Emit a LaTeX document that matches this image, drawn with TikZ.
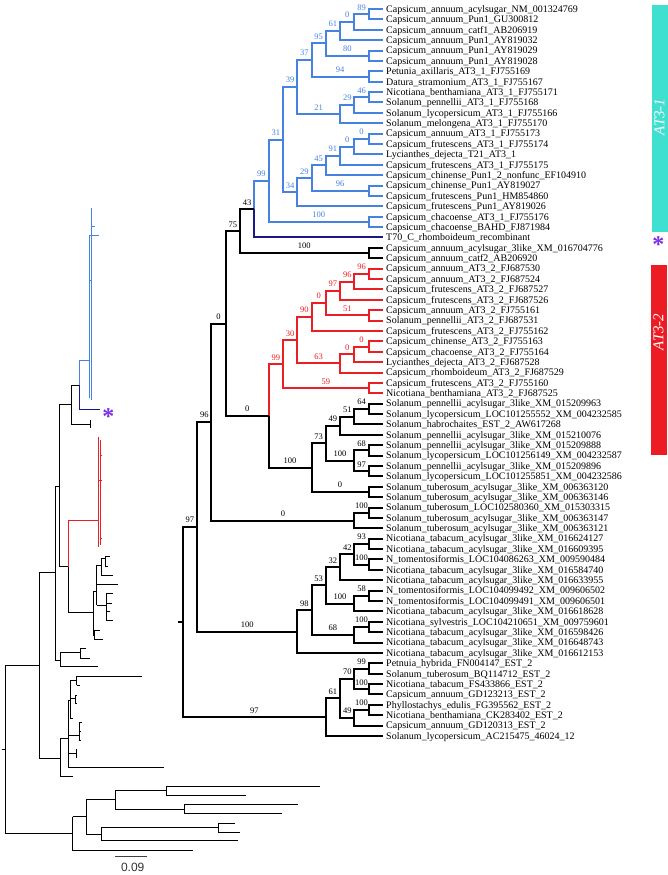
\documentclass[tikz,border=0pt]{standalone}
\usepackage{fontspec}
\setmainfont{Liberation Serif}
\newfontfamily\scalesans{Liberation Sans}
\usetikzlibrary{calc}
\definecolor{cladeblue}{RGB}{70,130,225}
\definecolor{cladered}{RGB}{235,30,35}
\definecolor{navyT}{RGB}{25,25,140}
\definecolor{starpurple}{RGB}{125,45,230}
\definecolor{barcyan}{RGB}{64,224,208}
\definecolor{barred}{RGB}{237,28,36}

\begin{document}
\begin{tikzpicture}[x=1pt,y=-1pt,
    branch/.style={line width=2pt},
    blueb/.style={branch, cladeblue},
    redb/.style={branch, cladered},
    blackb/.style={branch, black},
    navyb/.style={branch, navyT},
    leaf/.style={anchor=west, inner xsep=3pt, inner ysep=0pt,
      font=\fontsize{10}{10}\selectfont, text height=7pt, text depth=0.4pt},
    bs/.style={above, inner sep=0pt, yshift=3pt, font=\fontsize{8.5}{8.5}\selectfont},
    mini/.style={line width=0.9pt},
    cladebar/.style={rotate=90, text=white, font=\fontsize{15}{15}\selectfont\itshape}]
\useasboundingbox (0,0) rectangle (668,875);

% Leaves
\foreach \i/\nm in {1/Capsicum\_annuum\_acylsugar\_NM\_001324769,
  2/Capsicum\_annuum\_Pun1\_GU300812, 3/Capsicum\_annuum\_catf1\_AB206919,
  4/Capsicum\_annuum\_Pun1\_AY819032, 5/Capsicum\_annuum\_Pun1\_AY819029,
  6/Capsicum\_annuum\_Pun1\_AY819028, 7/Petunia\_axillaris\_AT3\_1\_FJ755169,
  8/Datura\_stramonium\_AT3\_1\_FJ755167, 9/Nicotiana\_benthamiana\_AT3\_1\_FJ755171,
  10/Solanum\_pennellii\_AT3\_1\_FJ755168, 11/Solanum\_lycopersicum\_AT3\_1\_FJ755166,
  12/Solanum\_melongena\_AT3\_1\_FJ755170, 13/Capsicum\_annuum\_AT3\_1\_FJ755173,
  14/Capsicum\_frutescens\_AT3\_1\_FJ755174, 15/Lycianthes\_dejecta\_T21\_AT3\_1,
  16/Capsicum\_frutescens\_AT3\_1\_FJ755175, 17/Capsicum\_chinense\_Pun1\_2\_nonfunc\_EF104910,
  18/Capsicum\_chinense\_Pun1\_AY819027, 19/Capsicum\_frutescens\_Pun1\_HM854860,
  20/Capsicum\_frutescens\_Pun1\_AY819026, 21/Capsicum\_chacoense\_AT3\_1\_FJ755176,
  22/Capsicum\_chacoense\_BAHD\_FJ871984, 23/T70\_C\_rhomboideum\_recombinant,
  24/Capsicum\_annuum\_acylsugar\_3like\_XM\_016704776, 25/Capsicum\_annuum\_catf2\_AB206920,
  26/Capsicum\_annuum\_AT3\_2\_FJ687530, 27/Capsicum\_annuum\_AT3\_2\_FJ687524,
  28/Capsicum\_frutescens\_AT3\_2\_FJ687527, 29/Capsicum\_frutescens\_AT3\_2\_FJ687526,
  30/Capsicum\_annuum\_AT3\_2\_FJ755161, 31/Solanum\_pennellii\_AT3\_2\_FJ687531,
  32/Capsicum\_frutescens\_AT3\_2\_FJ755162, 33/Capsicum\_chinense\_AT3\_2\_FJ755163,
  34/Capsicum\_chacoense\_AT3\_2\_FJ755164, 35/Lycianthes\_dejecta\_AT3\_2\_FJ687528,
  36/Capsicum\_rhomboideum\_AT3\_2\_FJ687529, 37/Capsicum\_frutescens\_AT3\_2\_FJ755160,
  38/Nicotiana\_benthamiana\_AT3\_2\_FJ687525, 39/Solanum\_pennellii\_acylsugar\_3like\_XM\_015209963,
  40/Solanum\_lycopersicum\_LOC101255552\_XM\_004232585, 41/Solanum\_habrochaites\_EST\_2\_AW617268,
  42/Solanum\_pennellii\_acylsugar\_3like\_XM\_015210076, 43/Solanum\_pennellii\_acylsugar\_3like\_XM\_015209888,
  44/Solanum\_lycopersicum\_LOC101256149\_XM\_004232587, 45/Solanum\_pennellii\_acylsugar\_3like\_XM\_015209896,
  46/Solanum\_lycopersicum\_LOC101255851\_XM\_004232586, 47/Solanum\_tuberosum\_acylsugar\_3like\_XM\_006363120,
  48/Solanum\_tuberosum\_acylsugar\_3like\_XM\_006363146, 49/Solanum\_tuberosum\_LOC102580360\_XM\_015303315,
  50/Solanum\_tuberosum\_acylsugar\_3like\_XM\_006363147, 51/Solanum\_tuberosum\_acylsugar\_3like\_XM\_006363121,
  52/Nicotiana\_tabacum\_acylsugar\_3like\_XM\_016624127, 53/Nicotiana\_tabacum\_acylsugar\_3like\_XM\_016609395,
  54/N\_tomentosiformis\_LOC104086263\_XM\_009590484, 55/Nicotiana\_tabacum\_acylsugar\_3like\_XM\_016584740,
  56/Nicotiana\_tabacum\_acylsugar\_3like\_XM\_016633955, 57/N\_tomentosiformis\_LOC104099492\_XM\_009606502,
  58/N\_tomentosiformis\_LOC104099491\_XM\_009606501, 59/Nicotiana\_tabacum\_acylsugar\_3like\_XM\_016618628,
  60/Nicotiana\_sylvestris\_LOC104210651\_XM\_009759601, 61/Nicotiana\_tabacum\_acylsugar\_3like\_XM\_016598426,
  62/Nicotiana\_tabacum\_acylsugar\_3like\_XM\_016648743, 63/Nicotiana\_tabacum\_acylsugar\_3like\_XM\_016612153,
  64/Petnuia\_hybrida\_FN004147\_EST\_2, 65/Solanum\_tuberosum\_BQ114712\_EST\_2,
  66/Nicotiana\_tabacum\_FS433866\_EST\_2, 67/Capsicum\_annuum\_GD123213\_EST\_2,
  68/Phyllostachys\_edulis\_FG395562\_EST\_2, 69/Nicotiana\_benthamiana\_CK283402\_EST\_2,
  70/Capsicum\_annuum\_GD120313\_EST\_2, 71/Solanum\_lycopersicum\_AC215475\_46024\_12}{
  \node[leaf] (L\i) at (383,{9+(\i-1)*10.386}) {\nm};
}

% Internal nodes: name/depth/y
\foreach \n/\d/\y in {b89/1/14.19, b0a/2/21.98, b61/3/31.07, b80/1/55.74, b95/4/43.40,
  b94/1/76.51, b37/5/59.96, b46/1/97.28, b29a/2/105.07, b21/3/114.16, b39/6/87.06,
  b0b/1/138.83, b0c/2/146.61, b91/3/155.70, b45/4/165.44, b96/1/190.76, b29b/5/178.10,
  b34/6/192.22, b31/7/139.64, b100a/1/221.91, b99/8/180.78, k43/9/209.14,
  k100b/1/253.07, k75/10/231.11,
  r96a/1/273.84, r96b/2/281.63, r97/3/290.72, r51/1/315.39, r0a/4/303.06, r90/5/317.01,
  r0s/1/346.55, r0t/2/354.34, r63/3/363.43, r30/6/340.22, r59/1/388.09, r99/7/364.16,
  s64/1/408.86, s51/2/416.65, s49/3/425.74, s68/1/450.41, s97/1/471.18, s100g/2/460.80,
  s73/4/443.27, s0a/1/491.95, s100h/5/467.61, k0b/8/415.89, k0a/11/323.50,
  t100/1/512.72, t0/2/520.51, k96/12/422.01,
  c93/1/543.88, c100a/1/564.65, c42/2/554.27, c32/3/567.25, c58/1/595.81, c100b/2/603.60,
  c53/4/585.43, c100c/1/626.97, c68/2/634.76, c98/5/610.10, c100d/6/631.52, k97/13/526.77,
  e99/1/668.51, e100a/1/689.28, e70/2/678.90, e100b/1/710.06, e49/2/717.85, e61/3/698.38,
  e97/4/717.20, root/14/621.99}{
  \coordinate (\n) at ({383-14.3*\d},\y);
}
\coordinate (rootstub) at (178,621.99);

% AT3-1 clade (blue)
\foreach \p/\c/\b in {b0a/b89/89, b61/b0a/0, b95/b61/61, b95/b80/80, b37/b95/95, b37/b94/94,
  b29a/b46/46, b21/b29a/29, b39/b37/37, b39/b21/21, b31/b39/39, b0c/b0b/0, b91/b0c/0,
  b45/b91/91, b29b/b45/45, b29b/b96/96, b34/b29b/29, b31/b34/34, b99/b31/31,
  b99/b100a/100, k43/b99/99}
  \draw[blueb] (\p) |- node[bs, pos=0.75] {\b} (\c);
\foreach \p/\i in {b89/1, b89/2, b0a/3, b61/4, b80/5, b80/6, b94/7, b94/8, b46/9, b46/10,
  b29a/11, b21/12, b0b/13, b0b/14, b0c/15, b91/16, b45/17, b96/18, b96/19, b34/20,
  b100a/21, b100a/22}
  \draw[blueb] (\p) |- (L\i.west);

% recombinant
\draw[navyb] (k43) |- (L23.west);

% AT3-2 clade (red)
\foreach \p/\c/\b in {k0b/r99/99, r99/r30/30, r99/r59/59, r30/r90/90, r30/r63/63,
  r90/r0a/0, r0a/r97/97, r0a/r51/51, r97/r96b/96, r96b/r96a/96, r63/r0t/0, r0t/r0s/0}
  \draw[redb] (\p) |- node[bs, pos=0.75] {\b} (\c);
\foreach \p/\i in {r96a/26, r96a/27, r96b/28, r97/29, r51/30, r51/31, r90/32, r0s/33,
  r0s/34, r0t/35, r63/36, r59/37, r59/38}
  \draw[redb] (\p) |- (L\i.west);

% rest of the tree
\foreach \p/\c/\b in {k75/k43/43, k75/k100b/100, k0a/k75/75, k0a/k0b/0, k96/k0a/0,
  k0b/s100h/100, s100h/s73/73, s100h/s0a/0, s73/s49/49, s73/s100g/100, s49/s51/51,
  s51/s64/64, s100g/s68/68, s100g/s97/97, k96/t0/0, t0/t100/100, k97/k96/96,
  k97/c100d/100, c100d/c98/98, c98/c53/53, c98/c68/68, c53/c32/32, c53/c100b/100,
  c32/c42/42, c42/c93/93, c42/c100a/100, c100b/c58/58, c68/c100c/100, root/k97/97,
  root/e97/97, e97/e61/61, e61/e70/70, e61/e49/49, e70/e99/99, e70/e100a/100,
  e49/e100b/100}
  \draw[blackb] (\p) |- node[bs, pos=0.75] {\b} (\c);
\foreach \p/\i in {k100b/24, k100b/25, s64/39, s64/40, s51/41, s49/42, s68/43, s68/44,
  s97/45, s97/46, s0a/47, s0a/48, t100/49, t100/50, t0/51, c93/52, c93/53, c100a/54,
  c100a/55, c32/56, c58/57, c58/58, c100b/59, c100c/60, c100c/61, c68/62, c100d/63,
  e99/64, e99/65, e100a/66, e100a/67, e100b/68, e100b/69, e49/70, e97/71}
  \draw[blackb] (\p) |- (L\i.west);
\draw[blackb] (rootstub) -- (root);

% Clade bars
\fill[barcyan] (651.5,5) rectangle (668,231.5);
\fill[barred] (650.5,265) rectangle (666.5,455);
\node[cladebar] (at31) at (659.5,117) {AT3-1};
\node[cladebar] (at32) at (658.5,332) {AT3-2};
\node[starpurple, font=\fontsize{24}{24}\selectfont\bfseries] (starR) at (658.3,245) {*};

% Overview phylogram (left)
\draw[mini, cladeblue] (91,208) -- (91,400) (89.3,236) -- (89.3,398)
  (91,226.7) -- (95,226.7) (89.3,235.7) -- (99.3,235.7) (89.3,280) -- (92,280)
  (79.3,360) -- (89.3,360) (79.3,360) -- (79.3,385);
\draw[mini, navyT] (79.3,385) -- (79.3,409.3) -- (100,409.3);
\node[starpurple, font=\fontsize{24}{24}\selectfont\bfseries] (starL) at (108.3,416.5) {*};
\draw[mini] (71.7,385) -- (79.3,385) (71.7,385) -- (71.7,424) -- (90.7,424)
  (90.7,420) -- (90.7,428) (59.3,404.3) -- (71.7,404.3) (59.3,404.3) -- (59.3,566.7)
  -- (68.3,566.7) -- (68.3,612.7) -- (93.3,612.7);
\draw[mini, cladered] (68.3,566.7) -- (68.3,520.7) -- (98.3,520.7)
  (98.3,436.7) -- (98.3,547.3) (100,440) -- (100,545) (100,455) -- (102,455)
  (99,480) -- (102,480) (100,538) -- (102,538);
% solanum part
\draw[mini] (93.3,591) -- (93.3,635) (93.3,591) -- (96.7,591)
  (96.7,565) -- (96.7,605) (96.7,565) -- (101,565) (101,558) -- (101,575)
  (101,558) -- (105,558) (105,556.7) -- (105,566) (105,556.7) -- (110,556.7)
  (105,566) -- (108,566) (101,575) -- (113.3,575) (96.7,584.3) -- (118.3,584.3)
  (96.7,605) -- (106.7,605) (106.7,593.3) -- (106.7,620.7) (106.7,593.3) -- (113.3,593.3)
  (106.7,603.3) -- (111.7,603.3) (106.7,611.7) -- (110,611.7) (106.7,620.7) -- (113.3,620.7)
  (93.3,635) -- (94.3,635) (94.3,630) -- (94.3,639.3) (94.3,630) -- (100,630)
  (94.3,639.3) -- (103.3,639.3);
% tuberosum part
\draw[mini] (55,486.7) -- (59.3,486.7) (55,486.7) -- (55,660) (55,660) -- (60,660)
  (60,652.7) -- (60,666.7) (60,652.7) -- (80,652.7) (80,648) -- (80,658)
  (80,648) -- (86,648) (80,658) -- (90,658) (60,666.7) -- (98.3,666.7);
% nicotiana and EST part
\draw[mini] (39.3,572.7) -- (55,572.7) (39.3,572.7) -- (39.3,758.3) -- (60,758.3)
  (60,738.3) -- (60,776.7) -- (72.7,776.7) (60,738.3) -- (68.3,738.3)
  (68.3,700) -- (68.3,767.3) (68.3,700) -- (70,700) (70,680) -- (70,718)
  (70,680) -- (76.7,680) (76.7,676) -- (76.7,685) (76.7,676) -- (141.7,676)
  (76.7,685) -- (80,685) (70,698) -- (75,698) (75,695) -- (75,703) (75,695) -- (77,695)
  (75,703) -- (77,703) (70,718) -- (73,718) (68.3,735) -- (79,735) (79,722) -- (79,740)
  (79,722) -- (82,722) (79,731) -- (81,731) (79,740) -- (81,740)
  (68.3,753.3) -- (77.3,753.3) (76,749) -- (76,758) (76,749) -- (77.3,749)
  (68.3,767.3) -- (164.3,767.3);
% outgroups and root
\draw[mini] (5,665) -- (5,833.3) (1.7,749.3) -- (5,749.3) (5,665) -- (39.3,665)
  (5,833.3) -- (72.7,833.3) (72.7,816.7) -- (72.7,850) -- (193.3,850)
  (72.7,816.7) -- (86,816.7) (86,799.3) -- (86,834) (86,834) -- (101.7,834)
  (101.7,827.3) -- (101.7,840.7) (101.7,827.3) -- (218.3,827.3)
  (218.3,823) -- (218.3,832) (218.3,823) -- (235,823) (218.3,832) -- (240,832)
  (101.7,840.7) -- (238,840.7)
  (86,799.3) -- (115,799.3) (115,790) -- (115,809) (115,809) -- (184.3,809)
  (184.3,804) -- (184.3,813.3) (184.3,804) -- (298,804) (184.3,813.3) -- (282,813.3)
  (115,790) -- (166,790) (166,786) -- (166,795) (166,786) -- (320,786)
  (166,795) -- (246,795);

% Scale bar
\draw[line width=0.6pt, black!75] (115,856.7) -- (146.7,856.7);
\node[font=\scalesans\fontsize{12}{12}\selectfont, text=black!80] (sbar) at (132.7,867) {0.09};
\end{tikzpicture}
\end{document}
